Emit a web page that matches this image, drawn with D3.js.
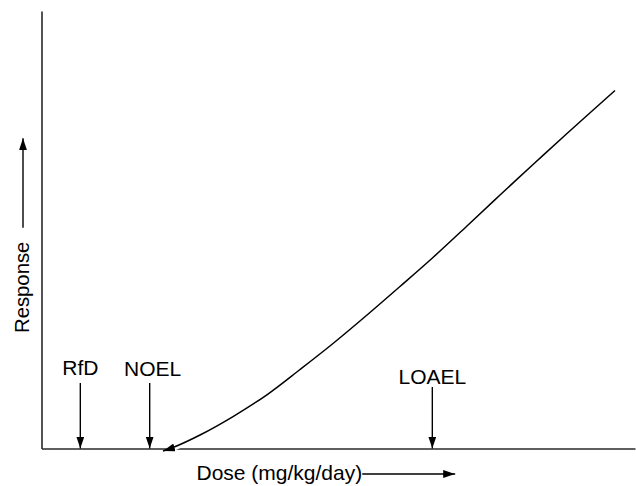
<!DOCTYPE html>
<html>
<head>
<meta charset="utf-8">
<script src="https://cdn.jsdelivr.net/npm/d3@7"></script>
<style>
  html, body { margin: 0; padding: 0; background: #fff; }
  svg { display: block; font-family: "Liberation Sans", Arial, Helvetica, sans-serif; }
</style>
</head>
<body>
<svg id="chart" width="636" height="486"></svg>
<script>
// Dose–response curve (relative units, 0–100 on both axes)
const curveDose     = [20.47, 22.16, 26.71, 32.27, 38.04, 43.56, 49.12, 54.85, 60.40, 65.96, 71.69, 77.26, 82.82, 88.54, 96.63];
const curveResponse = [-0.57, 0.23, 3.09, 7.31, 12.34, 18.06, 24.00, 30.51, 37.03, 43.66, 50.86, 57.94, 64.91, 72.00, 81.83];

// Reference dose levels marked along the dose axis
const levelLabels = ["RfD", "NOEL", "LOAEL"];
const levelDoses  = [6.54, 18.23, 65.85];
const levelHeight = [14.97, 14.97, 14.06];   // response level where each pointer starts

const xLabel = "Dose (mg/kg/day)";
const yLabel = "Response";

const width = 636, height = 486;
const margin = { top: 11, right: 1, bottom: 37.5, left: 41.5 };
const fontSize = 21;
const labelGap = [8, 7, 2.5];             // space between each label baseline and its pointer

const svg = d3.select("#chart");

const x = d3.scaleLinear().domain([0, 100]).range([margin.left, width - margin.right]);
const y = d3.scaleLinear().domain([0, 100]).range([height - margin.bottom, margin.top]);

// Arrowhead marker
svg.append("defs").append("marker")
  .attr("id", "head")
  .attr("viewBox", "0 0 12 8")
  .attr("refX", 12).attr("refY", 4)
  .attr("markerWidth", 12).attr("markerHeight", 8)
  .attr("markerUnits", "userSpaceOnUse")
  .attr("orient", "auto-start-reverse")
  .append("path")
  .attr("d", "M0,0 L12,4 L0,8 Z")
  .attr("fill", "#000");

// Axes: plain lines with no ticks
const xAxis = svg.append("g")
  .attr("transform", `translate(0,${y(0)})`)
  .call(d3.axisBottom(x).tickValues([]).tickSizeOuter(0));
const yAxis = svg.append("g")
  .attr("transform", `translate(${x(0)},0)`)
  .call(d3.axisLeft(y).tickValues([]).tickSizeOuter(0));
[xAxis, yAxis].forEach(g => g.select(".domain")
  .attr("stroke", "#2a2a2a").attr("stroke-width", 1.6));

// Dose–response curve with a white halo so it breaks the axis where it lands
const pts = curveDose.map((d, i) => [d, curveResponse[i]]);
const line = d3.line().x(d => x(d[0])).y(d => y(d[1])).curve(d3.curveCatmullRom.alpha(0.5));

svg.append("path")
  .attr("d", line(pts.slice(1)))
  .attr("fill", "none")
  .attr("stroke", "#fff")
  .attr("stroke-width", 7);

svg.append("path")
  .attr("d", line(pts))
  .attr("fill", "none")
  .attr("stroke", "#000")
  .attr("stroke-width", 1.5)
  .attr("marker-start", "url(#head)");

// Pointers and labels for RfD, NOEL, LOAEL
levelLabels.forEach((lab, i) => {
  const px = x(levelDoses[i]);
  const top = y(levelHeight[i]);
  svg.append("line")
    .attr("x1", px).attr("x2", px)
    .attr("y1", top).attr("y2", y(0))
    .attr("stroke", "#000").attr("stroke-width", 1.4)
    .attr("marker-end", "url(#head)");
  svg.append("text")
    .attr("x", px + (i === 1 ? 3 : 0)).attr("y", top - labelGap[i])
    .attr("text-anchor", "middle")
    .attr("font-size", fontSize)
    .attr("fill", "#000")
    .text(lab);
});

// X axis title with a trailing arrow
const xtStart = 196.5;
const xt = svg.append("text")
  .attr("x", xtStart).attr("y", y(0) + 31.5)
  .attr("font-size", fontSize)
  .attr("fill", "#000")
  .text(xLabel);
const xtEnd = xtStart + xt.node().getComputedTextLength();
svg.append("line")
  .attr("x1", xtEnd).attr("x2", x(69.7))
  .attr("y1", y(0) + 25.5).attr("y2", y(0) + 25.5)
  .attr("stroke", "#000").attr("stroke-width", 1.4)
  .attr("marker-end", "url(#head)");

// Y axis title with an upward arrow
const ytBase = y(26.4);
const yt = svg.append("text")
  .attr("transform", `translate(28.5,${ytBase}) rotate(-90)`)
  .attr("font-size", 20.3)
  .attr("fill", "#000")
  .text(yLabel);
const ytEnd = ytBase - yt.node().getComputedTextLength();
svg.append("line")
  .attr("x1", 23).attr("x2", 23)
  .attr("y1", ytEnd - 14).attr("y2", y(70.9))
  .attr("stroke", "#000").attr("stroke-width", 1.4)
  .attr("marker-end", "url(#head)");
</script>
</body>
</html>
